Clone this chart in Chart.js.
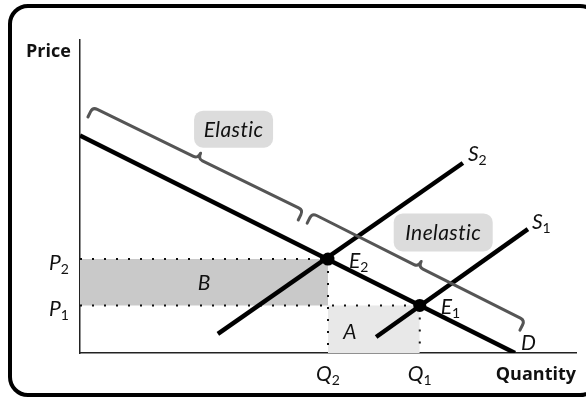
<!DOCTYPE html>
<html>
<head>
<meta charset="utf-8">
<script src="https://cdn.jsdelivr.net/npm/chart.js@4"></script>
<style>
  html, body { margin: 0; padding: 0; background: #fff; }
  canvas { display: block; }
</style>
</head>
<body>
<canvas id="c" width="586" height="397"></canvas>
<script>
// ---- data (economic units) ----
const demandX = [0, 8.77];
const demandY = [6.95, 0];
const supply1X = [5.97, 9.03];
const supply1Y = [0.51, 3.96];
const supply2X = [2.78, 7.72];
const supply2Y = [0.61, 6.07];
const quantityTicks = [5.0, 6.85];      // Q2, Q1
const priceTicks = [3.0, 1.52];          // P2, P1
const quantityTickLabels = [['Q', '2'], ['Q', '1']];
const priceTickLabels = [['P', '2'], ['P', '1']];
const equilibriumQ = [6.85, 5.0];        // E1, E2
const equilibriumP = [1.52, 3.0];
const equilibriumLabels = [['E', '1'], ['E', '2']];
const elasticBraceX = [0.16, 4.40];
const elasticBraceY = [7.54, 4.25];
const inelasticBraceX = [4.58, 8.87];
const inelasticBraceY = [4.15, 0.73];
const braceLabels = ['Elastic', 'Inelastic'];
const areaLabels = ['A', 'B'];
const axisTitles = ['Price', 'Quantity'];

const pts = (xs, ys) => xs.map((x, i) => ({ x, y: ys[i] }));

const ITALIC = 'italic 21px Lato';
const SUB = '14px Lato';
const BOLD = 'bold 18px "Open Sans"';

function drawSubText(ctx, main, sub, x, y) {
  ctx.font = ITALIC;
  ctx.textAlign = 'left';
  ctx.textBaseline = 'alphabetic';
  ctx.fillStyle = '#111';
  ctx.fillText(main, x, y);
  const w = ctx.measureText(main).width;
  if (sub) {
    ctx.font = SUB;
    ctx.fillText(sub, x + w, y + 4);
  }
}

function drawBrace(ctx, x0, y0, x1, y1, q, c, r) {
  const dx = x1 - x0, dy = y1 - y0, L = Math.hypot(dx, dy);
  const tx = dx / L, ty = dy / L;
  let nx = ty, ny = -tx;
  if (ny > 0) { nx = -nx; ny = -ny; }
  const mx = (x0 + x1) / 2, my = (y0 + y1) / 2;
  ctx.beginPath();
  ctx.moveTo(x0, y0);
  ctx.lineTo(x0 + nx * (q - r), y0 + ny * (q - r));
  ctx.quadraticCurveTo(x0 + nx * q, y0 + ny * q, x0 + nx * q + tx * r, y0 + ny * q + ty * r);
  ctx.lineTo(mx + nx * q - tx * r, my + ny * q - ty * r);
  ctx.quadraticCurveTo(mx + nx * q, my + ny * q, mx + nx * (q + c), my + ny * (q + c));
  ctx.quadraticCurveTo(mx + nx * q, my + ny * q, mx + nx * q + tx * r, my + ny * q + ty * r);
  ctx.lineTo(x1 + nx * q - tx * r, y1 + ny * q - ty * r);
  ctx.quadraticCurveTo(x1 + nx * q, y1 + ny * q, x1 + nx * (q - r), y1 + ny * (q - r));
  ctx.lineTo(x1, y1);
  ctx.stroke();
  return { x: mx + nx * (q + c), y: my + ny * (q + c) };
}

function roundBox(ctx, cx, cy, w, h, r, fill) {
  ctx.beginPath();
  ctx.roundRect(cx - w / 2, cy - h / 2, w, h, r);
  ctx.fillStyle = fill;
  ctx.fill();
}

const decor = {
  id: 'decor',
  beforeDraw(chart) {
    const ctx = chart.ctx;
    ctx.save();
    ctx.fillStyle = '#fff';
    ctx.fillRect(0, 0, chart.width, chart.height);
    ctx.beginPath();
    ctx.roundRect(10, 6, 588, 389, 18);
    ctx.lineWidth = 4;
    ctx.strokeStyle = '#000';
    ctx.stroke();
    ctx.restore();
  },
  afterDatasetsDraw(chart) {
    const ctx = chart.ctx;
    const xs = chart.scales.x, ys = chart.scales.y;
    const X = v => xs.getPixelForValue(v), Y = v => ys.getPixelForValue(v);
    ctx.save();
    // braces
    ctx.strokeStyle = '#555';
    ctx.lineWidth = 3;
    ctx.lineJoin = 'round';
    ctx.lineCap = 'round';
    const c1 = drawBrace(ctx, X(elasticBraceX[0]), Y(elasticBraceY[0]), X(elasticBraceX[1]), Y(elasticBraceY[1]), 11, 6, 5);
    const c2 = drawBrace(ctx, X(inelasticBraceX[0]), Y(inelasticBraceY[0]), X(inelasticBraceX[1]), Y(inelasticBraceY[1]), 11, 6, 5);
    // label boxes
    const b1 = { x: c1.x + 33, y: c1.y - 24 };
    const b2 = { x: c2.x + 22, y: c2.y - 29 };
    roundBox(ctx, b1.x, b1.y, 79, 37, 9, '#dcdcdc');
    roundBox(ctx, b2.x, b2.y, 99, 38, 9, '#dcdcdc');
    ctx.font = ITALIC;
    ctx.fillStyle = '#111';
    ctx.textAlign = 'center';
    ctx.textBaseline = 'middle';
    if ('letterSpacing' in ctx) ctx.letterSpacing = '0.4px';
    ctx.fillText(braceLabels[0], b1.x, b1.y + 1);
    ctx.fillText(braceLabels[1], b2.x, b2.y + 1);
    if ('letterSpacing' in ctx) ctx.letterSpacing = '0px';

    // curve labels
    drawSubText(ctx, 'S', '2', X(supply2X[1]) + 5, Y(supply2Y[1]) - 2);
    drawSubText(ctx, 'S', '1', X(supply1X[1]) + 4, Y(supply1Y[1]) + 0);
    drawSubText(ctx, 'D', '', X(demandX[1]) + 6, Y(demandY[1]) - 3);
    // equilibrium labels
    equilibriumLabels.forEach((l, i) => {
      drawSubText(ctx, l[0], l[1], X(equilibriumQ[i]) + 21, Y(equilibriumP[i]) + 9);
    });
    // tick labels
    priceTickLabels.forEach((l, i) => {
      drawSubText(ctx, l[0], l[1], 49, Y(priceTicks[i]) + 11);
    });
    quantityTickLabels.forEach((l, i) => {
      drawSubText(ctx, l[0], l[1], X(quantityTicks[i]) - 12, chart.chartArea.bottom + 28);
    });
    // area labels
    ctx.font = ITALIC;
    ctx.textAlign = 'center';
    ctx.textBaseline = 'alphabetic';
    ctx.fillText(areaLabels[0], X(quantityTicks[0]) + 22, Y(priceTicks[1]) + 34);
    ctx.fillText(areaLabels[1], (X(0) + X(quantityTicks[0])) / 2, (Y(priceTicks[0]) + Y(priceTicks[1])) / 2 + 8);
    // axis titles
    ctx.font = BOLD;
    ctx.textAlign = 'left';
    ctx.fillText(axisTitles[0], 26, 57);
    ctx.textAlign = 'right';
    ctx.fillText(axisTitles[1], chart.chartArea.right, chart.chartArea.bottom + 27);
    ctx.restore();
  }
};

const dotted = { borderColor: '#111', borderWidth: 2, borderDash: [2, 10], pointRadius: 0, showLine: true, fill: false, order: 5 };
const curve = { borderColor: '#000', borderWidth: 4.5, pointRadius: 0, showLine: true, fill: false, order: 2, borderCapStyle: 'butt' };

new Chart(document.getElementById('c'), {
  type: 'scatter',
  data: {
    datasets: [
      { ...curve, label: 'D', data: pts(demandX, demandY) },
      { ...curve, label: 'S1', data: pts(supply1X, supply1Y) },
      { ...curve, label: 'S2', data: pts(supply2X, supply2Y) },
      { label: 'E', data: pts(equilibriumQ, equilibriumP), pointRadius: 6.5, pointBackgroundColor: '#000', pointBorderWidth: 0, showLine: false, order: 1 },
      { ...dotted, label: 'P2', data: [{ x: 0, y: priceTicks[0] }, { x: quantityTicks[0], y: priceTicks[0] }] },
      { ...dotted, label: 'P1', data: [{ x: 0, y: priceTicks[1] }, { x: quantityTicks[1], y: priceTicks[1] }] },
      { ...dotted, label: 'Q2', data: [{ x: quantityTicks[0], y: priceTicks[0] }, { x: quantityTicks[0], y: 0 }] },
      { ...dotted, label: 'Q1', data: [{ x: quantityTicks[1], y: priceTicks[1] }, { x: quantityTicks[1], y: 0 }] },
      { label: 'B', data: [{ x: 0, y: priceTicks[0] }, { x: quantityTicks[0], y: priceTicks[0] }], showLine: true, borderWidth: 0, pointRadius: 0, backgroundColor: '#c9c9c9', fill: { value: priceTicks[1] }, order: 10 },
      { label: 'A', data: [{ x: quantityTicks[0], y: priceTicks[1] }, { x: quantityTicks[1], y: priceTicks[1] }], showLine: true, borderWidth: 0, pointRadius: 0, backgroundColor: '#e8e8e8', fill: 'origin', order: 10 }
    ]
  },
  options: {
    responsive: false,
    animation: false,
    devicePixelRatio: 1,
    layout: { padding: { left: 80, top: 40, right: 10, bottom: 44 } },
    plugins: { legend: { display: false }, tooltip: { enabled: false } },
    scales: {
      x: {
        type: 'linear', min: 0, max: 10,
        grid: { display: false, drawTicks: false },
        ticks: { display: false },
        border: { display: true, color: '#222', width: 1.5 },
        afterFit: s => { s.height = 0; }
      },
      y: {
        type: 'linear', min: 0, max: 10,
        grid: { display: false, drawTicks: false },
        ticks: { display: false },
        border: { display: true, color: '#222', width: 1.5 },
        afterFit: s => { s.width = 0; }
      }
    }
  },
  plugins: [decor]
});
</script>
</body>
</html>
